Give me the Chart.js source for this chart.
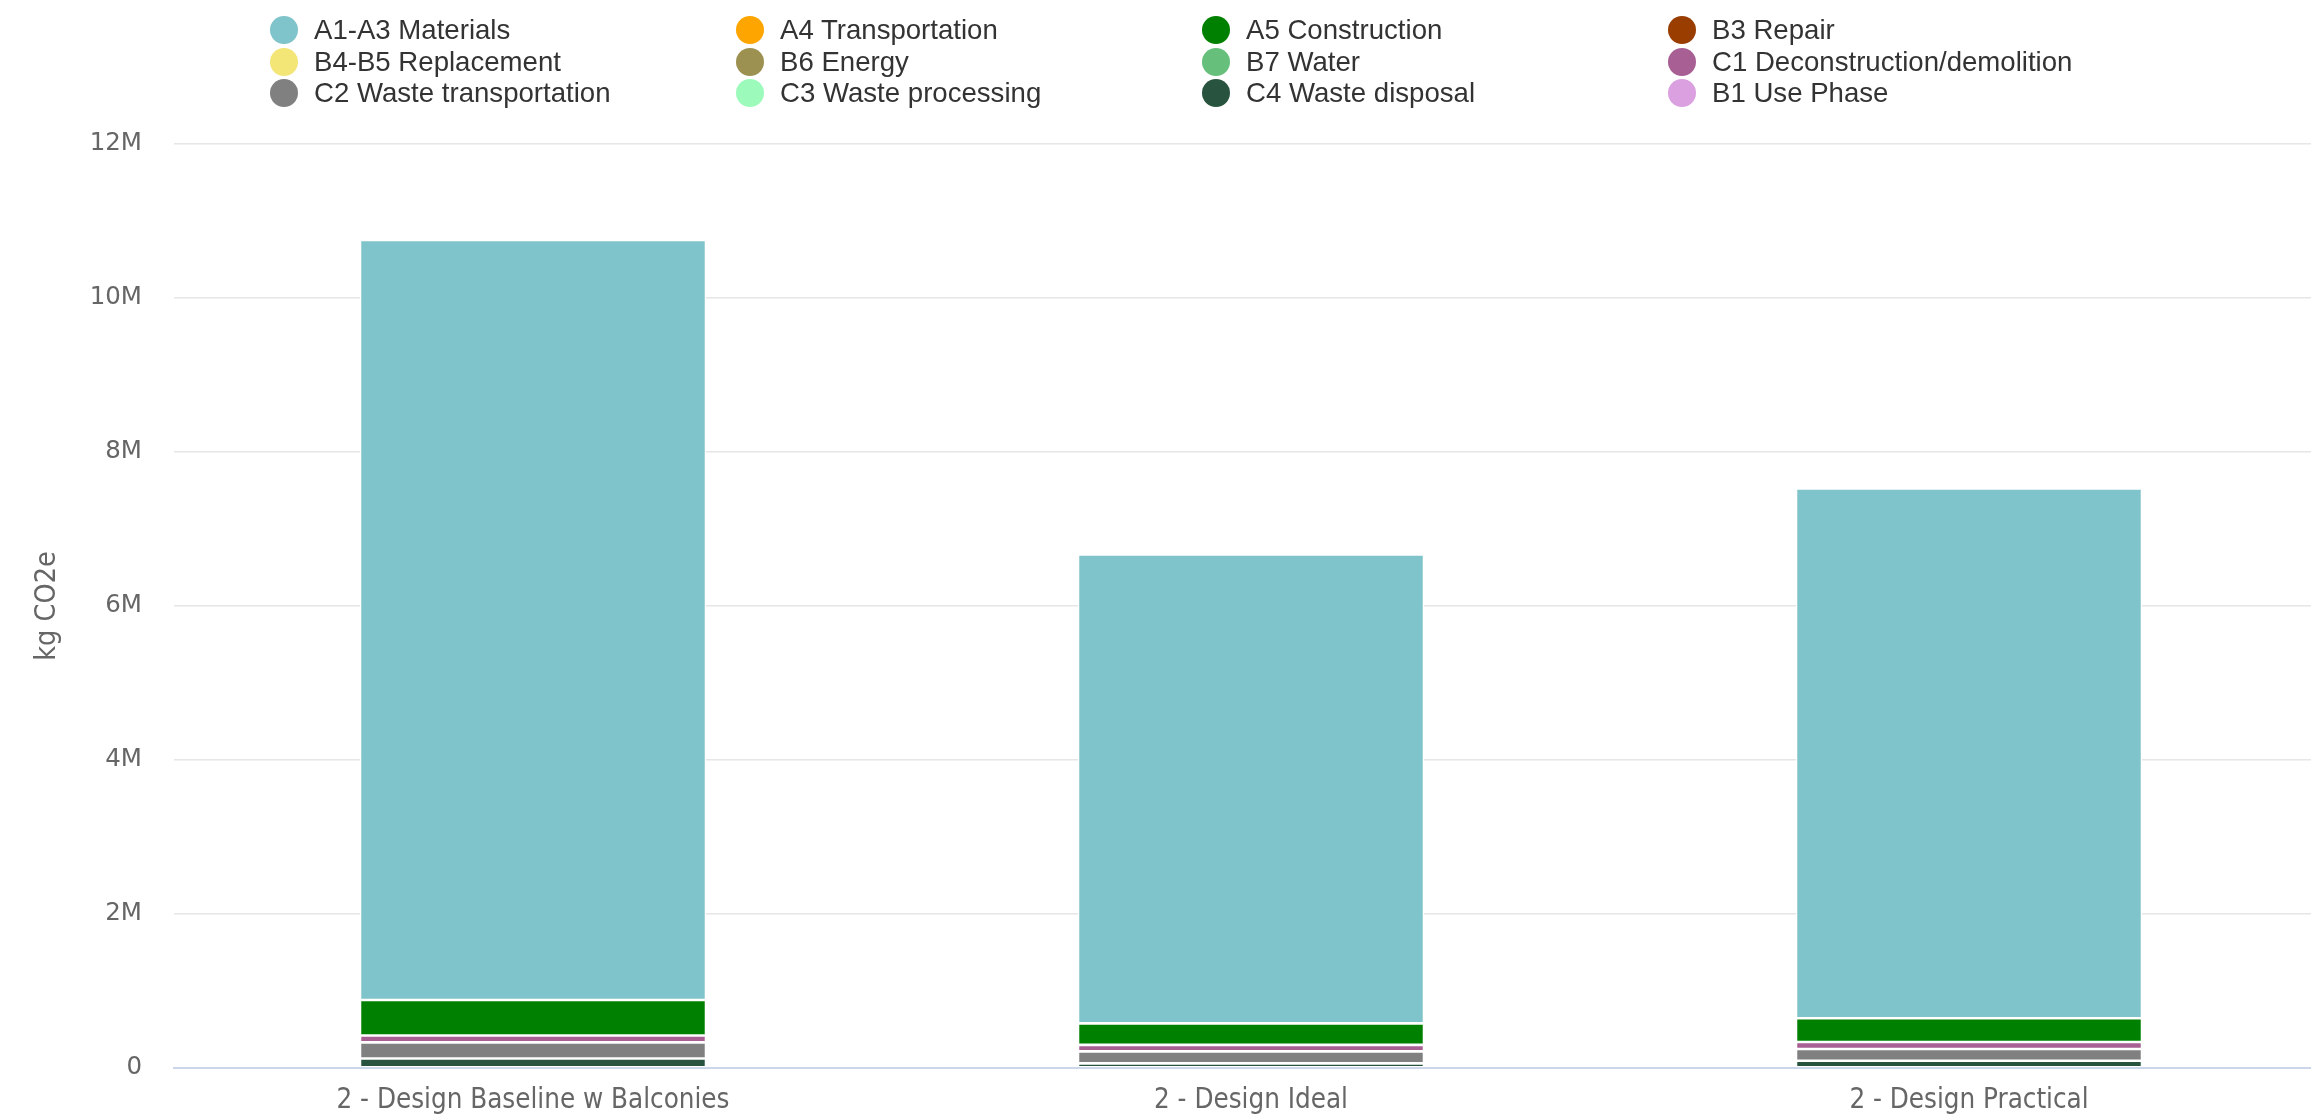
<!DOCTYPE html>
<html>
<head>
<meta charset="utf-8">
<script src="https://cdn.jsdelivr.net/npm/chart.js@4.4.1/dist/chart.umd.min.js"></script>
<style>
  html, body { margin: 0; padding: 0; background: #fff; overflow: hidden; }
  #wrap { position: relative; width: 2330px; height: 1116px; }
  #legend {
    position: absolute; left: 270px; top: 14px;
    display: grid; grid-template-columns: repeat(4, 466px); grid-auto-rows: 31.7px;
    font-family: "Liberation Sans", Arial, sans-serif; font-size: 27.6px; color: #333;
  }
  .item { display: flex; align-items: center; white-space: nowrap; }
  .dot { width: 28px; height: 28px; border-radius: 50%; margin-right: 16px; flex: none; }
</style>
</head>
<body>
<div id="wrap">
  <canvas id="chart" width="2330" height="1116"></canvas>
  <div id="legend"></div>
</div>
<script>
// categories and stage totals (kg CO2e)
const categories = ["2 - Design Baseline w Balconies", "2 - Design Ideal", "2 - Design Practical"];
const a1a3Materials = [9870000, 6090000, 6880000];
const a4Transportation = [0, 0, 0];
const a5Construction = [460000, 280000, 310000];
const b3Repair = [0, 0, 0];
const b4b5Replacement = [0, 0, 0];
const b6Energy = [0, 0, 0];
const b7Water = [0, 0, 0];
const c1Deconstruction = [90000, 84000, 90000];
const c2WasteTransport = [210000, 156000, 152000];
const c3WasteProcessing = [0, 0, 0];
const c4WasteDisposal = [123000, 60000, 95000];
const b1UsePhase = [0, 0, 0];
const yTicks = [0, 2000000, 4000000, 6000000, 8000000, 10000000, 12000000];

const series = [
  { label: "A1-A3 Materials", data: a1a3Materials, color: "#7fc3cb" },
  { label: "A4 Transportation", data: a4Transportation, color: "#ffa500" },
  { label: "A5 Construction", data: a5Construction, color: "#008000" },
  { label: "B3 Repair", data: b3Repair, color: "#993d00" },
  { label: "B4-B5 Replacement", data: b4b5Replacement, color: "#f3e576" },
  { label: "B6 Energy", data: b6Energy, color: "#9c9150" },
  { label: "B7 Water", data: b7Water, color: "#66bf7a" },
  { label: "C1 Deconstruction/demolition", data: c1Deconstruction, color: "#a85f93" },
  { label: "C2 Waste transportation", data: c2WasteTransport, color: "#808080" },
  { label: "C3 Waste processing", data: c3WasteProcessing, color: "#9cfbba" },
  { label: "C4 Waste disposal", data: c4WasteDisposal, color: "#28543f" },
  { label: "B1 Use Phase", data: b1UsePhase, color: "#dba0e0" },
];

// html legend, 4 columns like the original
const legendEl = document.getElementById("legend");
for (const s of series) {
  const item = document.createElement("div");
  item.className = "item";
  item.innerHTML = `<span class="dot" style="background:${s.color}"></span><span>${s.label}</span>`;
  legendEl.appendChild(item);
}

// first series sits on top of the stack, so feed them reversed
const datasets = series.slice().reverse().map((s) => ({
  label: s.label,
  data: s.data,
  backgroundColor: s.color,
  borderColor: "#ffffff",
  borderWidth: 1.3,
  borderSkipped: false,
  categoryPercentage: 1,
  barPercentage: 0.482,
}));

new Chart(document.getElementById("chart"), {
  type: "bar",
  data: { labels: categories, datasets },
  options: {
    responsive: false,
    animation: false,
    layout: { padding: { top: 144, left: 0, right: 2, bottom: 0 } },
    plugins: { legend: { display: false }, tooltip: { enabled: false } },
    scales: {
      x: {
        stacked: true,
        grid: { display: false, drawTicks: false },
        border: { display: true, color: "#ccd6eb", width: 2 },
        ticks: {
          color: "#666",
          padding: 16,
          maxRotation: 0,
          font: { family: "DejaVu Sans Condensed", size: 27.5 },
        },
        afterFit: (s) => { s.height = 48; },
      },
      y: {
        stacked: true,
        min: 0,
        max: 12000000,
        afterBuildTicks: (s) => { s.ticks = yTicks.map((v) => ({ value: v })); },
        grid: { color: "#e6e6e6", lineWidth: 1.5, drawTicks: false },
        border: { display: false },
        ticks: {
          color: "#666",
          padding: 32,
          font: { family: "DejaVu Sans", size: 24.5 },
          callback: (v) => (v === 0 ? "0" : v / 1000000 + "M"),
        },
        title: {
          display: true,
          text: "kg CO2e",
          color: "#666",
          padding: { top: 30, bottom: 0 },
          font: { family: "DejaVu Sans Condensed", size: 28.5 },
        },
        afterFit: (s) => { s.width = 174; },
      },
    },
  },
});
</script>
</body>
</html>
